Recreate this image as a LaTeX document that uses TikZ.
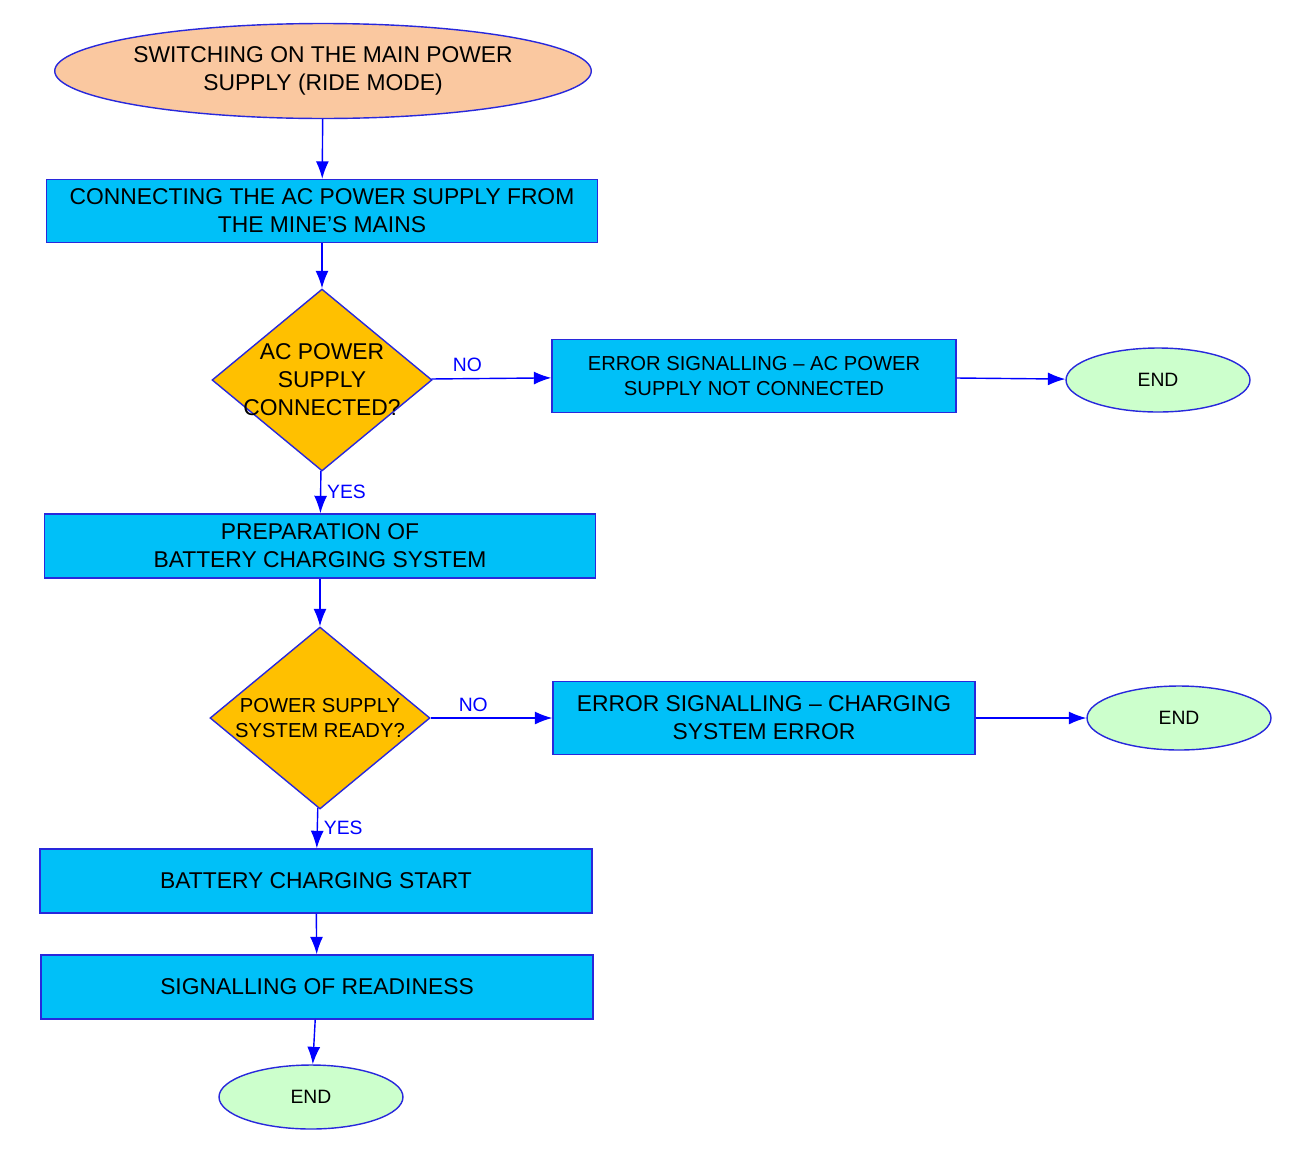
\documentclass[tikz,border=0pt]{standalone}
\usepackage{fontspec}
\setmainfont{Liberation Sans}
\usetikzlibrary{shapes.geometric,arrows.meta}
\definecolor{boxc}{RGB}{0,192,248}
\definecolor{decc}{RGB}{255,192,0}
\definecolor{endc}{RGB}{204,255,204}
\definecolor{startc}{RGB}{250,200,160}
\definecolor{edgec}{RGB}{40,40,220}
\tikzset{
  proc/.style={draw=edgec, fill=boxc, thick, align=center, inner sep=0pt, font=\fontsize{13}{16}\selectfont},
  ask/.style={diamond, draw=edgec, fill=decc, thick, inner sep=0pt, minimum width=4.4cm, minimum height=3.64cm},
  fin/.style={ellipse, draw=edgec, fill=endc, thick, minimum width=3.68cm, minimum height=1.28cm, font=\fontsize{11}{13}\selectfont},
  flow/.style={-{Latex[length=3.5mm,width=2.6mm]}, blue, thick},
  tag/.style={font=\fontsize{11}{13}\selectfont}
}
\begin{document}
\begin{tikzpicture}[x=0.02cm, y=-0.02cm]
\useasboundingbox (0,0) rectangle (1307,1153);
\node [ellipse, draw=edgec, fill=startc, thick, minimum width=8.6cm, minimum height=1.9cm, align=center, inner sep=0pt, font=\fontsize{13}{16}\selectfont] (start) at (323,71) {SWITCHING ON THE MAIN POWER\\SUPPLY (RIDE MODE)};
\node [proc, minimum width=11.02cm, minimum height=1.26cm] (conn) at (322,211) {CONNECTING THE AC POWER SUPPLY FROM\\THE MINE'S MAINS};
\node [ask, label={[align=center, font=\fontsize{13}{16}\selectfont]center:AC POWER\\SUPPLY\\CONNECTED?}] (acq) at (322,380) {};
\node [proc, minimum width=8.08cm, minimum height=1.46cm, font=\fontsize{11.5}{14}\selectfont] (acerr) at (754,376) {ERROR SIGNALLING -- AC POWER\\SUPPLY NOT CONNECTED};
\node [fin] (end1) at (1158,380) {END};
\node [proc, minimum width=11.02cm, minimum height=1.28cm] (prep) at (320,546) {PREPARATION OF\\BATTERY CHARGING SYSTEM};
\node [ask, label={[align=center, font=\fontsize{11.5}{14}\selectfont]center:POWER SUPPLY\\SYSTEM READY?}] (rdq) at (320,718) {};
\node [proc, minimum width=8.44cm, minimum height=1.46cm] (chgerr) at (764,718) {ERROR SIGNALLING -- CHARGING\\SYSTEM ERROR};
\node [fin] (end2) at (1179,718) {END};
\node [proc, minimum width=11.04cm, minimum height=1.28cm] (chg) at (316,881) {BATTERY CHARGING START};
\node [proc, minimum width=11.04cm, minimum height=1.28cm] (ready) at (317,987) {SIGNALLING OF READINESS};
\node [fin] (end3) at (311,1097) {END};
\draw [flow] (start) -- (conn);
\draw [flow] (conn) -- (acq);
\draw [flow] (acq) -- node [tag, above, pos=0.3] {NO} (acerr);
\draw [flow] (acerr) -- (end1);
\draw [flow] (acq) -- node [tag, right] {YES} (prep);
\draw [flow] (prep) -- (rdq);
\draw [flow] (rdq) -- node [tag, above, pos=0.35] {NO} (chgerr);
\draw [flow] (chgerr) -- (end2);
\draw [flow] (rdq) -- node [tag, right] {YES} (chg);
\draw [flow] (chg) -- (ready);
\draw [flow] (ready) -- (end3);
\end{tikzpicture}
\end{document}
